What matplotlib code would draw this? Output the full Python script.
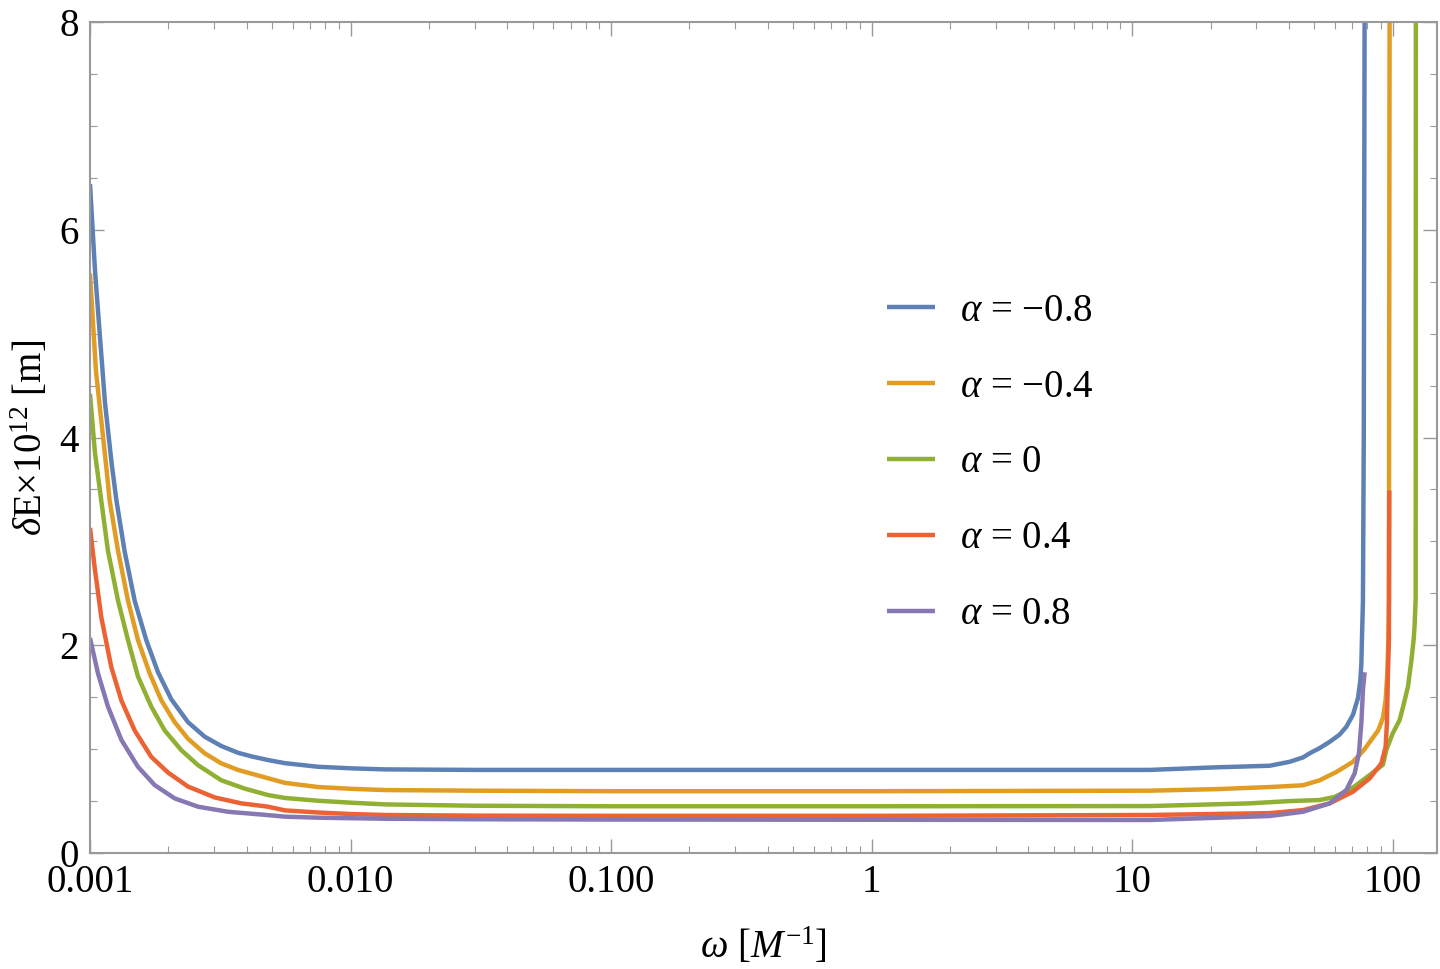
import matplotlib
matplotlib.use("Agg")
import matplotlib.pyplot as plt
from matplotlib.ticker import LogLocator, NullFormatter, MultipleLocator

plt.rcParams['font.family'] = ['Liberation Serif', 'DejaVu Serif']
plt.rcParams['mathtext.fontset'] = 'custom'
plt.rcParams['mathtext.rm'] = 'Liberation Serif'
plt.rcParams['mathtext.it'] = 'Liberation Serif:italic'

# values (omega in 1/M, dE x 1e12 in m)
w_m08 = [0.001, 0.001045, 0.001092, 0.001142, 0.001211, 0.001262, 0.001359,
         0.001484, 0.001644, 0.001824, 0.002051, 0.002377, 0.002755, 0.003191,
         0.003697, 0.004173, 0.004821, 0.005601, 0.007516, 0.0101, 0.01355,
         0.03, 0.1, 1, 11.68, 21.06, 33.73, 40.24, 45.28, 48.04, 52.47, 57.31,
         62.6, 66.42, 70.42, 73.6, 75.17, 75.86, 76.24, 76.93, 77.5, 78.09]
e_m08 = [6.44, 5.61, 4.97, 4.33, 3.75, 3.40, 2.90,
         2.43, 2.05, 1.74, 1.48, 1.26, 1.12, 1.03,
         0.965, 0.93, 0.895, 0.865, 0.83, 0.815, 0.805,
         0.80, 0.80, 0.80, 0.80, 0.825, 0.84, 0.878, 0.92, 0.96, 1.01, 1.07,
         1.14, 1.215, 1.33, 1.49, 1.66, 1.82, 2.05, 2.43, 4.0, 8.3]

w_m04 = [0.001, 0.001054, 0.001159, 0.00119, 0.001281, 0.001399, 0.001528,
         0.001694, 0.001878, 0.002113, 0.002377, 0.002755, 0.003191, 0.003697,
         0.004821, 0.005601, 0.007516, 0.0101, 0.01355, 0.03, 0.1, 1, 11.68,
         21.06, 33.73, 45.28, 52.47, 60.81, 70.42, 77.5, 88.0, 91.8, 94.0,
         95.43, 96.27, 96.78, 97.38]
e_m04 = [5.58, 4.64, 3.68, 3.39, 2.91, 2.43, 2.05,
         1.73, 1.47, 1.26, 1.10, 0.96, 0.863, 0.80,
         0.72, 0.675, 0.635, 0.618, 0.606, 0.60, 0.595, 0.595, 0.60,
         0.615, 0.635, 0.652, 0.70, 0.78, 0.878, 0.99, 1.18, 1.30, 1.47,
         1.73, 2.05, 2.43, 8.3]

w_0 = [0.001, 0.001045, 0.001105, 0.001172, 0.001281, 0.001399, 0.001528,
       0.001718, 0.001935, 0.002241, 0.002597, 0.003191, 0.003924, 0.004821,
       0.005601, 0.007516, 0.0101, 0.01355, 0.03, 0.1, 1, 11.68, 28.27,
       40.24, 52.47, 60.0, 70.42, 81.6, 91.8, 94.58, 100.0, 106.4, 110.0,
       114.5, 118.0, 120.4, 121.5, 122.6, 122.8]
e_0 = [4.42, 3.85, 3.39, 2.91, 2.43, 2.05, 1.70,
       1.41, 1.18, 0.99, 0.846, 0.70, 0.62, 0.558,
       0.53, 0.503, 0.484, 0.468, 0.455, 0.45, 0.45, 0.452, 0.478,
       0.50, 0.51, 0.54, 0.63, 0.75, 0.85, 0.99, 1.15, 1.28, 1.42,
       1.60, 1.85, 2.05, 2.2, 2.45, 8.3]

w_04 = [0.001, 0.001042, 0.001105, 0.001207, 0.001319, 0.001484, 0.001718,
        0.001992, 0.002377, 0.00301, 0.003807, 0.004821, 0.005601, 0.007516,
        0.0101, 0.01355, 0.03, 0.1, 1, 11.68, 33.73, 45.28, 57.31, 70.42,
        81.6, 90.52, 93.99, 95.08, 95.94, 96.78, 96.9, 97.1]
e_04 = [3.13, 2.75, 2.27, 1.79, 1.47, 1.18, 0.926,
        0.775, 0.64, 0.535, 0.478, 0.446, 0.41, 0.39,
        0.375, 0.366, 0.36, 0.358, 0.358, 0.366, 0.384, 0.413, 0.478, 0.59,
        0.718, 0.863, 1.02, 1.25, 1.73, 2.05, 2.6, 3.49]

w_08 = [0.001, 0.001073, 0.001172, 0.001319, 0.001528, 0.001771, 0.002113,
        0.002597, 0.003385, 0.004821, 0.005601, 0.007516, 0.01355, 0.03, 0.1,
        1, 11.68, 33.73, 45.28, 57.31, 66.42, 71.48, 74.25, 75.86, 76.93, 78.09]
e_08 = [2.07, 1.73, 1.41, 1.09, 0.83, 0.654, 0.526,
        0.446, 0.397, 0.365, 0.35, 0.34, 0.33, 0.325, 0.322,
        0.32, 0.318, 0.356, 0.397, 0.478, 0.606, 0.766, 0.96, 1.25, 1.57, 1.74]

series = [
    (w_m08, e_m08, r'$\alpha$ = −0.8', '#5E81B5'),
    (w_m04, e_m04, r'$\alpha$ = −0.4', '#E19C24'),
    (w_0, e_0, r'$\alpha$ = 0', '#8FB032'),
    (w_04, e_04, r'$\alpha$ = 0.4', '#EB6235'),
    (w_08, e_08, r'$\alpha$ = 0.8', '#8778B3'),
]

xticks = [0.001, 0.01, 0.1, 1, 10, 100]
xticklabels = ['0.001', '0.010', '0.100', '1', '10', '100']
yticks = [0, 2, 4, 6, 8]

fig = plt.figure(figsize=(14.4, 9.69), dpi=100)
ax = fig.add_axes([0.0625, 0.1197, 0.9354, 0.8576])

for w, e, lab, col in series:
    ax.plot(w, e, color=col, lw=3.2, label=lab, solid_joinstyle='round',
            solid_capstyle='butt')

ax.set_xscale('log')
ax.set_xlim(0.001, 148)
ax.set_ylim(0, 8)

ax.set_xticks(xticks)
ax.set_xticklabels(xticklabels)
ax.xaxis.set_minor_locator(LogLocator(base=10, subs=range(2, 10), numticks=20))
ax.xaxis.set_minor_formatter(NullFormatter())
ax.set_yticks(yticks)
ax.yaxis.set_minor_locator(MultipleLocator(0.5))

ax.tick_params(which='both', direction='in', top=True, right=True,
               color='#999999', labelsize=28, labelcolor='black')
ax.tick_params(which='major', length=10, width=1.0)
ax.tick_params(which='minor', length=5, width=0.8)
ax.tick_params(axis='x', which='major', pad=8)
ax.tick_params(axis='y', which='major', pad=8)

for s in ax.spines.values():
    s.set_color('#999999')
    s.set_linewidth(1.5)

ax.set_xlabel(r'$\omega$ [$M^{-1}$]', fontsize=28, labelpad=18)
ax.set_ylabel(r'$\delta$E$\times$10$^{12}$ [m]', fontsize=28, labelpad=6)

ax.legend(loc='upper left', bbox_to_anchor=(0.580, 0.693), frameon=False,
          fontsize=28, handlelength=1.23, handletextpad=0.64,
          labelspacing=1.0, borderaxespad=0)

fig.savefig('out.png', dpi=100)
